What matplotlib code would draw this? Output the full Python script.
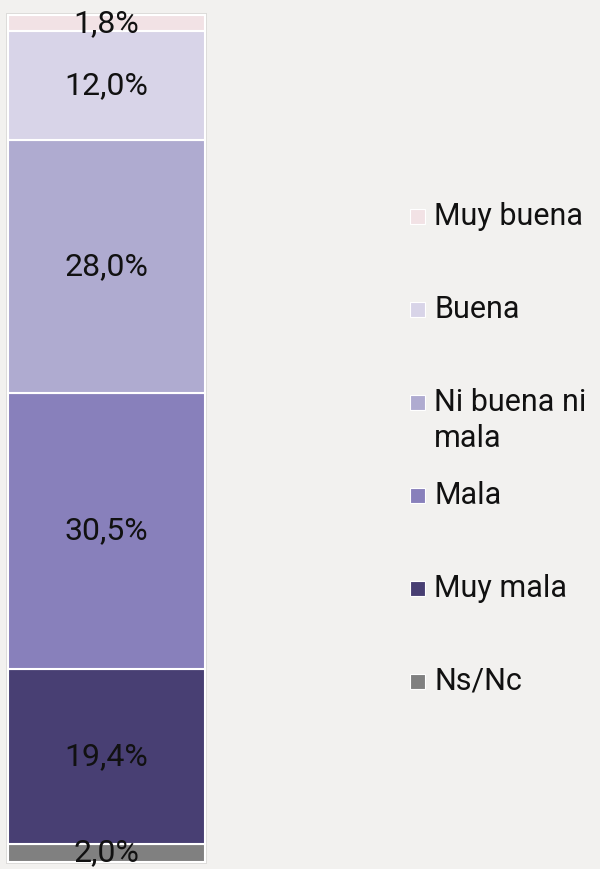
import matplotlib
matplotlib.use("Agg")
import matplotlib.pyplot as plt
from matplotlib.patches import Rectangle

# data, bottom to top
categories = ["Ns/Nc", "Muy mala", "Mala", "Ni buena ni\nmala", "Buena", "Muy buena"]
values = [2.0, 19.4, 30.5, 28.0, 12.0, 1.8]
colors = ["#808080", "#483f73", "#8880bb", "#afabd0", "#d8d4e8", "#f2e2e5"]

bg = "#f2f1ef"
plt.rcParams["font.family"] = ["Roboto", "DejaVu Sans"]

fig = plt.figure(figsize=(6, 8.69), dpi=100, facecolor=bg)

# faint shadow behind the bar
fig.patches.append(Rectangle((6 / 600, 5 / 869), 201 / 600, 851 / 869,
                             transform=fig.transFigure, facecolor="#dcdbd9",
                             edgecolor="none", zorder=-1))

ax = fig.add_axes([8 / 600, 7 / 869, 197 / 600, 847 / 869], zorder=1)
ax.patch.set_visible(False)

bottom = 0.0
for cat, val, col in zip(categories, values, colors):
    bar = ax.bar(0, val, width=1.0, bottom=bottom, color=col,
                 edgecolor="white", linewidth=1.5)
    for p in bar:
        p.set_clip_on(False)
    label = f"{val:.1f}%".replace(".", ",")
    ax.text(0, bottom + val / 2, label, ha="center", va="center",
            fontsize=23, color="#111111")
    bottom += val

ax.set_xlim(-0.5, 0.5)
ax.set_ylim(0, sum(values))
ax.axis("off")

# legend, top entry first
leg_x = 410 / 600
txt_x = 434 / 600
y0 = 216
step = 93
for i, (cat, col) in enumerate(zip(categories[::-1], colors[::-1])):
    y = 1 - (y0 + i * step) / 869
    fig.patches.append(Rectangle((leg_x, y - 8 / 869), 15 / 600, 15 / 869,
                                 transform=fig.transFigure, facecolor=col,
                                 edgecolor="white", linewidth=0.8))
    fig.text(txt_x, y + 14 / 869, cat, ha="left", va="top", fontsize=22,
             color="#111111", linespacing=1.3)

fig.savefig("out.png", dpi=100, facecolor=bg)
